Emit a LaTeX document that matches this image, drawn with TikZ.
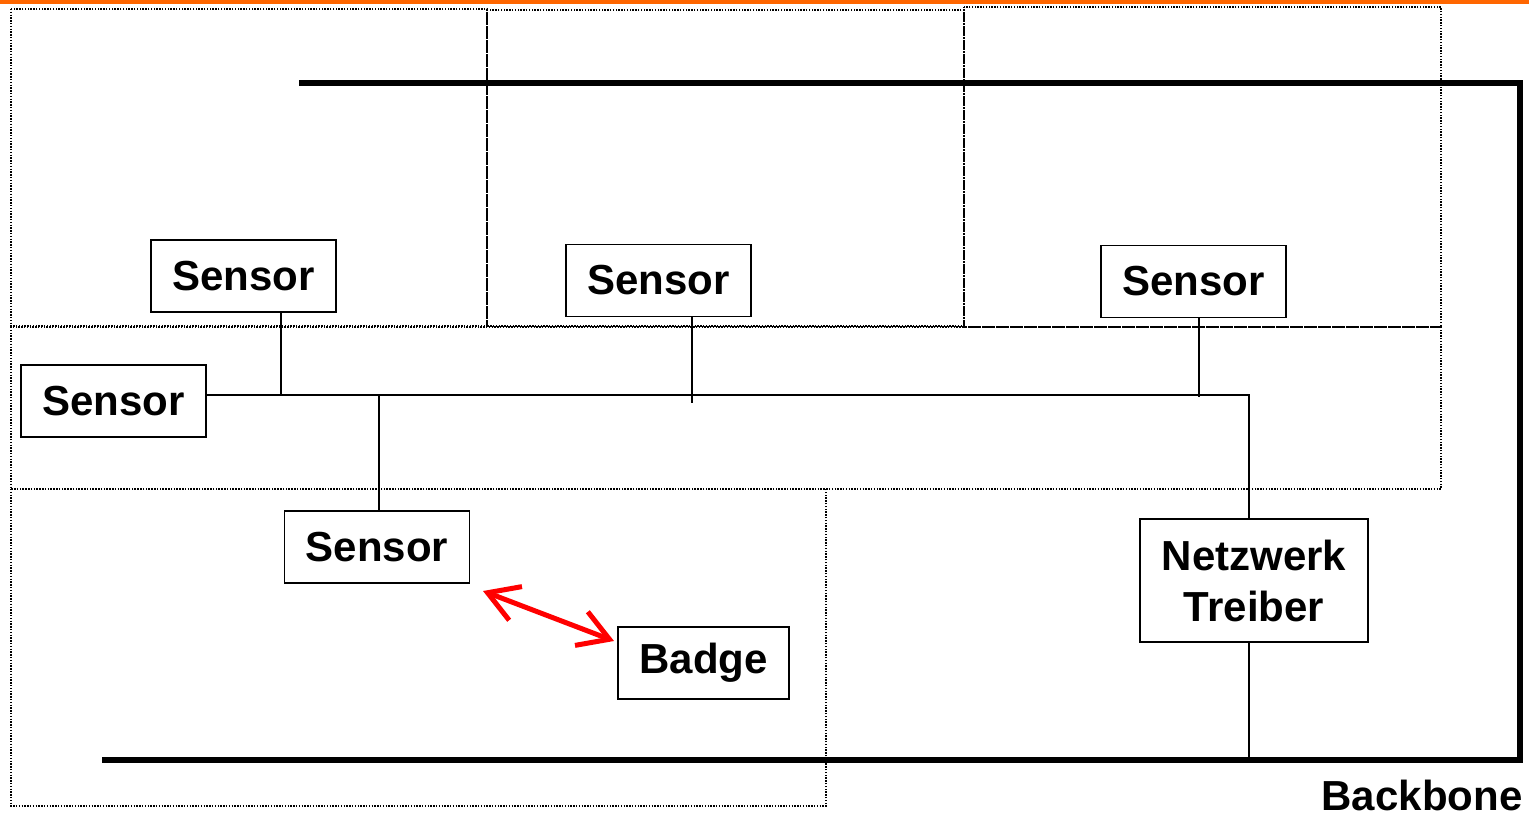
\documentclass[tikz,border=0pt]{standalone}
\usepackage{fontspec}
\setmainfont{Liberation Sans}
\usetikzlibrary{arrows.meta}
\definecolor{topline}{RGB}{255,102,0}
\definecolor{arrowred}{RGB}{255,0,0}
\tikzset{
  room/.style={draw, line width=1.4pt, dash pattern=on 1.4pt off 1.4pt},
  device/.style={draw, line width=1.8pt, inner sep=0pt, minimum width=185pt, minimum height=72pt,
    font=\fontsize{42}{51}\selectfont\bfseries, align=center},
  wire/.style={line width=1.6pt},
  backbone/.style={line width=6.5pt},
  link/.style={draw=arrowred, line width=5pt, {Straight Barb[length=30pt,width=36pt]}-{Straight Barb[length=30pt,width=36pt]}},
  label/.style={font=\fontsize{42}{51}\selectfont\bfseries, inner sep=0pt, text height=30pt, text depth=0pt}
}
\begin{document}
\begin{tikzpicture}[x=1pt,y=-1pt]
\useasboundingbox (0,0) rectangle (1529,817);
\fill[topline] (0,0) rectangle (1529,3.5);
% rooms
\draw[room] (11,9) rectangle (487,326);
\draw[room] (487,10) rectangle (964,326);
\draw[room] (964,7) rectangle (1441,327);
\draw[room] (11,327) rectangle (1441,489);
\draw[room] (11,489) rectangle (826,806);
% backbone
\coordinate (bbstart) at (299,83);
\coordinate (bbc1) at (1520,83);
\coordinate (bbc2) at (1520,760);
\coordinate (bbend) at (102,760);
\draw[backbone] (bbstart) -- (bbc1) -- (bbc2) -- (bbend);
% devices
\node[device] (s1) at (243.5,276) {Sensor};
\node[device] (s2) at (658.5,280.5) {Sensor};
\node[device] (s3) at (1193.5,281.5) {Sensor};
\node[device] (s4) at (113.5,401) {Sensor};
\node[device] (s5) at (377,547) {Sensor};
\node[device, minimum width=171pt] (badge) at (703.5,663) {Badge};
\node[device, minimum width=228pt, minimum height=123pt] (nt) at (1254,580.5) {Netzwerk\\Treiber};
% bus
\coordinate (busend) at (1249,395);
\coordinate (j1) at (281,395);
\coordinate (j2) at (692,403);
\coordinate (j3) at (1199,397);
\coordinate (j5) at (379,395);
\draw[wire] (s4.east |- busend) -- (busend) -- (busend |- nt.north);
\draw[wire] (j1 |- s1.south) -- (j1);
\draw[wire] (j2 |- s2.south) -- (j2);
\draw[wire] (j3 |- s3.south) -- (j3);
\draw[wire] (j5) -- (j5 |- s5.north);
\coordinate (ntdown) at (1249,760);
\draw[wire] (ntdown |- nt.south) -- (ntdown);
% link
\coordinate (a1) at (483,591);
\coordinate (a2) at (614,641);
\draw[link] (a1) -- (a2);
\node[label] (bb) at (1422,795) {Backbone};
\end{tikzpicture}
\end{document}
